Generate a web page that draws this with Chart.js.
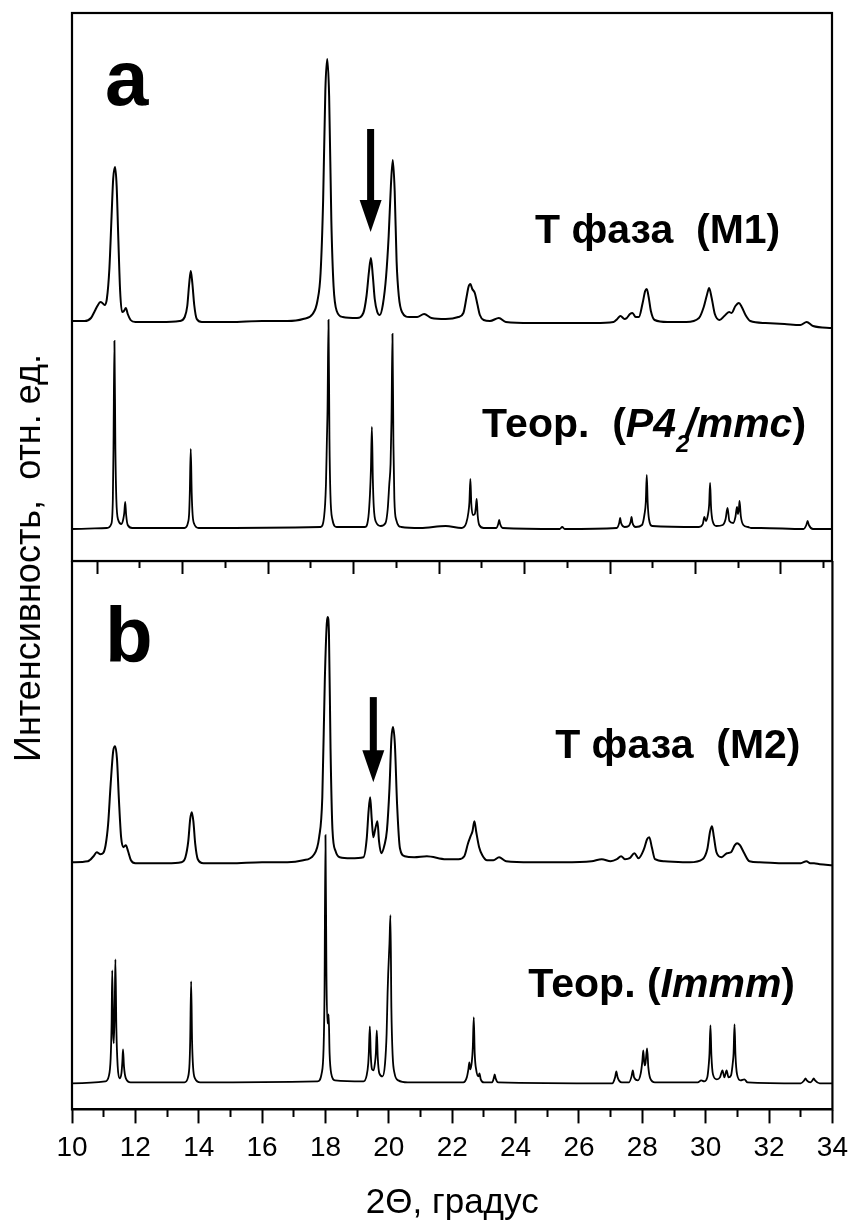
<!DOCTYPE html>
<html lang="ru">
<head>
<meta charset="UTF-8">
<title>XRD: T фаза M1 / M2</title>
<script src="https://cdn.jsdelivr.net/npm/chart.js"></script>
<style>
  body { margin: 0; background: #fff; width: 851px; height: 1224px; position: relative; overflow: hidden; }
  canvas { position: absolute; left: 0; }
  #chartA { top: 0; }
  #chartB { top: 561px; }
  #yTitle {
    position: absolute; left: 28px; top: 558px;
    transform: translate(-50%, -50%) rotate(-90deg);
    font: 36px "Liberation Sans", Arial, sans-serif; white-space: pre; color: #000;
  }
</style>
</head>
<body>
<canvas id="chartA" width="851" height="574"></canvas>
<!-- a few px wider than the page so the "34" label overhang does not squeeze the plot -->
<canvas id="chartB" width="856" height="663"></canvas>
<div id="yTitle">Интенсивность,  отн. ед.</div>

<script>
// 2theta range of the shared bottom axis
const thetaMin = 10
const thetaMax = 34

// panel a, experimental pattern, T phase (M1): [2theta, intensity a.u.]
const expM1 = [
  [10.00,10],[10.40,10],[10.60,13],[10.72,20],[10.80,25],[10.90,29],[10.96,28],[11.03,26],[11.10,32],
  [11.18,62],[11.25,115],[11.30,152],[11.36,164],[11.41,145],[11.46,95],[11.52,40],[11.58,19],[11.64,20],
  [11.70,23],[11.76,17],[11.85,11],[12.00,9],[12.80,9],[13.40,10],[13.56,14],[13.64,25],[13.70,47],
  [13.75,60],[13.80,48],[13.86,26],[13.94,12],[14.10,9],[15.00,9],[16.00,10],[16.80,10],[17.30,12],
  [17.60,17],[17.75,30],[17.85,58],[17.93,130],[18.00,240],[18.06,272],[18.12,235],[18.19,110],[18.26,45],
  [18.36,20],[18.55,14],[19.00,13],[19.20,18],[19.30,35],[19.38,60],[19.44,73],[19.50,55],[19.56,32],
  [19.64,19],[19.72,16],[19.82,27],[19.92,55],[20.00,95],[20.07,145],[20.13,171],[20.19,140],[20.25,70],
  [20.32,35],[20.42,19],[20.65,14],[20.90,14],[21.12,17],[21.35,13],[21.80,12],[22.20,14],[22.36,18],
  [22.46,34],[22.52,44],[22.58,47],[22.64,42],[22.72,38],[22.80,27],[22.88,16],[23.00,11],[23.20,10],
  [23.48,13],[23.70,9],[24.50,8],[25.50,8],[26.50,8],[27.10,9],[27.22,12],[27.32,15],[27.45,12],
  [27.52,13],[27.62,17],[27.70,18],[27.80,14],[27.90,14],[28.02,28],[28.10,40],[28.15,42],[28.21,34],
  [28.28,20],[28.40,11],[28.80,9],[29.40,9],[29.80,13],[29.95,24],[30.05,36],[30.12,43],[30.20,33],
  [30.30,17],[30.45,11],[30.60,15],[30.75,19],[30.83,18],[30.95,25],[31.06,28],[31.15,24],[31.27,16],
  [31.42,10],[31.90,8],[32.50,7],[33.00,6],[33.20,9],[33.40,5],[34.00,3]
]

// panel a, calculated pattern P4_2/mmc
const theoP42 = [
  [10.00,0],[11.10,1],[11.24,5],[11.29,30],[11.31,80],[11.34,188],[11.37,80],[11.40,30],[11.46,9],
  [11.56,5],[11.62,10],[11.65,16],[11.68,27],[11.71,14],[11.76,4],[11.90,1],[13.55,1],[13.66,6],
  [13.70,16],[13.72,36],[13.75,80],[13.78,36],[13.81,14],[13.86,5],[14.00,1],[17.85,2],[17.96,12],
  [18.02,45],[18.05,90],[18.07,120],[18.10,209],[18.13,90],[18.16,35],[18.22,10],[18.36,2],[19.25,2],
  [19.36,12],[19.41,35],[19.44,60],[19.47,102],[19.50,50],[19.53,22],[19.60,7],[19.75,3],[19.90,6],
  [19.97,20],[20.02,45],[20.06,65],[20.09,110],[20.12,195],[20.15,85],[20.18,30],[20.24,9],[20.40,2],
  [21.00,1],[21.80,3],[22.30,1],[22.45,6],[22.52,17],[22.55,27],[22.58,50],[22.61,25],[22.66,14],
  [22.72,15],[22.75,21],[22.78,30],[22.81,14],[22.86,4],[23.00,1],[23.40,1],[23.46,5],[23.49,9],
  [23.52,5],[23.60,1],[25.40,0],[25.48,2],[25.56,0],[27.20,1],[27.28,6],[27.31,11],[27.34,6],[27.45,2],
  [27.58,3],[27.64,7],[27.67,12],[27.70,6],[27.80,2],[28.00,4],[28.08,15],[28.12,27],[28.15,54],
  [28.18,26],[28.22,10],[28.32,3],[29.80,2],[29.92,5],[29.97,12],[30.02,8],[30.08,14],[30.12,24],
  [30.15,46],[30.18,22],[30.23,8],[30.35,3],[30.55,4],[30.64,10],[30.70,21],[30.76,8],[30.88,6],
  [30.95,12],[31.00,22],[31.03,15],[31.06,20],[31.08,28],[31.12,13],[31.20,4],[31.35,2],[31.45,1],
  [31.75,1],[33.10,0],[33.19,4],[33.23,8],[33.27,4],[33.40,0],[34.00,0]
]

// panel b, experimental pattern, T phase (M2)
const expM2 = [
  [10.00,7],[10.50,8],[10.68,13],[10.78,17],[10.90,15],[10.98,16],[11.06,24],[11.14,45],[11.22,85],
  [11.30,118],[11.36,123],[11.42,110],[11.48,70],[11.55,32],[11.62,22],[11.70,24],[11.77,18],[11.86,9],
  [12.00,6],[13.00,6],[13.45,7],[13.58,12],[13.67,28],[13.73,50],[13.78,57],[13.83,48],[13.89,25],
  [13.97,10],[14.15,6],[15.00,6],[16.00,7],[16.80,7],[17.30,9],[17.62,14],[17.80,32],[17.90,72],
  [17.98,190],[18.04,245],[18.07,252],[18.11,235],[18.16,120],[18.22,40],[18.32,18],[18.45,12],[18.80,11],
  [19.20,12],[19.30,30],[19.36,58],[19.41,72],[19.46,50],[19.51,32],[19.57,40],[19.64,48],[19.69,28],
  [19.76,16],[19.86,24],[19.94,39],[20.02,81],[20.08,130],[20.13,142],[20.19,125],[20.26,65],[20.35,21],
  [20.50,13],[20.80,12],[21.20,13],[21.80,10],[22.20,10],[22.38,13],[22.50,26],[22.58,33],[22.64,38],
  [22.70,48],[22.76,37],[22.85,22],[22.95,14],[23.10,9],[23.30,9],[23.48,12],[23.70,8],[24.50,7],
  [25.50,7],[26.40,8],[26.72,10],[27.00,8],[27.20,10],[27.33,13],[27.45,10],[27.60,11],[27.75,16],
  [27.88,11],[28.05,20],[28.15,30],[28.22,32],[28.30,22],[28.40,10],[28.70,8],[29.50,7],[29.90,10],
  [30.05,20],[30.14,38],[30.20,43],[30.26,32],[30.34,17],[30.50,12],[30.67,16],[30.80,17],[30.92,24],
  [30.99,26],[31.08,24],[31.20,17],[31.38,8],[31.70,7],[32.50,6],[33.00,6],[33.18,8],[33.30,6],
  [33.42,6],[33.60,5],[34.00,4]
]

// panel b, calculated pattern Immm
const theoImmm = [
  [10.00,0],[11.05,2],[11.16,7],[11.22,25],[11.25,60],[11.27,113],[11.30,50],[11.32,40],[11.35,80],
  [11.37,124],[11.40,55],[11.44,18],[11.50,5],[11.56,10],[11.59,22],[11.61,34],[11.64,17],[11.70,5],
  [11.85,1],[13.55,1],[13.66,6],[13.71,20],[13.73,42],[13.76,102],[13.79,42],[13.82,17],[13.88,5],
  [14.05,1],[17.75,2],[17.88,10],[17.94,35],[17.97,90],[18.00,248],[18.03,110],[18.06,60],[18.08,62],
  [18.10,69],[18.13,30],[18.18,10],[18.30,3],[19.20,2],[19.30,8],[19.35,20],[19.37,32],[19.40,57],
  [19.43,28],[19.47,14],[19.52,13],[19.56,20],[19.59,30],[19.62,53],[19.65,26],[19.70,10],[19.80,7],
  [19.88,20],[19.93,50],[19.96,90],[19.98,110],[20.02,140],[20.05,168],[20.08,75],[20.12,28],[20.18,10],
  [20.30,3],[20.60,1],[22.35,1],[22.46,6],[22.51,14],[22.54,21],[22.57,14],[22.62,22],[22.65,36],
  [22.68,66],[22.71,30],[22.76,13],[22.83,7],[22.86,10],[22.90,4],[23.00,1],[23.26,1],[23.31,5],
  [23.34,9],[23.37,5],[23.45,1],[27.05,0],[27.14,6],[27.18,12],[27.22,6],[27.35,1],[27.58,1],[27.66,7],
  [27.70,13],[27.74,6],[27.86,3],[27.95,10],[28.00,22],[28.03,33],[28.07,18],[28.10,20],[28.15,35],
  [28.19,16],[28.25,5],[28.40,1],[29.75,1],[29.86,3],[29.95,2],[30.05,6],[30.10,20],[30.12,30],
  [30.15,58],[30.18,28],[30.23,9],[30.35,4],[30.45,6],[30.53,13],[30.59,6],[30.66,13],[30.72,6],
  [30.80,8],[30.86,22],[30.88,30],[30.91,59],[30.94,28],[30.99,9],[31.10,3],[31.22,4],[31.32,1],
  [33.00,0],[33.11,3],[33.15,5],[33.19,3],[33.30,1],[33.37,3],[33.41,5],[33.45,3],[33.60,0],[34.00,0]
]

// vertical stacking of the curves inside each panel
const offsetM1 = 230, offsetP42 = 32
const offsetM2 = 240, offsetImmm = 26
const panelTop = 548

const FONT = '"Liberation Sans", Arial, sans-serif'

function toPoints(pairs, offset) {
  return pairs.map(p => ({ x: p[0], y: p[1] + offset }))
}

function trace(pairs, offset, width) {
  return {
    data: toPoints(pairs, offset),
    borderColor: '#000',
    borderWidth: width,
    pointRadius: 0,
    fill: false,
    cubicInterpolationMode: 'monotone'
  }
}

// labels, panel letters and arrows, drawn through the chart scales
const decor = {
  id: 'decor',
  afterDatasetsDraw(chart, args, opts) {
    const ctx = chart.ctx
    const xs = chart.scales.x, ys = chart.scales.y
    const area = chart.chartArea
    ctx.save()
    ctx.fillStyle = '#000'
    ctx.textBaseline = 'alphabetic'
    ctx.textAlign = 'left'
    for (const lab of opts.labels) {
      let px = xs.getPixelForValue(lab.x)
      const py = ys.getPixelForValue(lab.y)
      for (const seg of lab.parts) {
        const size = seg.sub ? lab.subSize : lab.size
        ctx.font = (seg.it ? 'italic ' : '') + 'bold ' + size + 'px ' + FONT
        ctx.fillText(seg.t, px, py + (seg.sub ? lab.subDrop : 0))
        px += ctx.measureText(seg.t).width - (seg.sub ? 4 : 0)
      }
    }
    for (const ar of opts.arrows) {
      const cx = xs.getPixelForValue(ar.x)
      const top = ys.getPixelForValue(ar.top)
      const base = ys.getPixelForValue(ar.base)
      const tip = ys.getPixelForValue(ar.tip)
      ctx.fillRect(cx - 3.5, top, 7, base - top + 1)
      ctx.beginPath()
      ctx.moveTo(cx - 11, base)
      ctx.lineTo(cx + 11, base)
      ctx.lineTo(cx, tip)
      ctx.closePath()
      ctx.fill()
    }
    // panel frame
    ctx.strokeStyle = '#000'
    ctx.lineWidth = 2.2
    ctx.strokeRect(area.left, area.top, area.right - area.left, area.bottom - area.top)
    ctx.restore()
  }
}

const hiddenY = { type: 'linear', display: false, min: 0, max: panelTop }
const hiddenX = { type: 'linear', display: false, min: thetaMin, max: thetaMax }

// panel a
new Chart(document.getElementById('chartA'), {
  type: 'line',
  data: { datasets: [trace(expM1, offsetM1, 2), trace(theoP42, offsetP42, 1.8)] },
  options: {
    responsive: false,
    animation: false,
    layout: { padding: { left: 72, right: 19, top: 13, bottom: 0 } },
    plugins: {
      legend: { display: false },
      tooltip: { enabled: false },
      decor: {
        labels: [
          { x: 11.04, y: 456, size: 78, parts: [{ t: 'a' }] },
          { x: 24.62, y: 318, size: 41, parts: [{ t: 'T фаза  (M1)' }] },
          { x: 22.95, y: 124, size: 41, subSize: 24, subDrop: 15,
            parts: [{ t: 'Теор.  (' }, { t: 'P4', it: true }, { t: '2', it: true, sub: true },
                    { t: '/mmc', it: true }, { t: ')' }] }
        ],
        arrows: [{ x: 19.43, top: 432, base: 361, tip: 329 }]
      }
    },
    scales: {
      x: hiddenX,
      y: hiddenY,
      // separate tick set along the lower edge of panel a
      xt: {
        type: 'linear', position: 'bottom', min: -0.585, max: 17.193,
        border: { display: true, color: '#000', width: 2 },
        grid: {
          display: true, drawOnChartArea: false, drawTicks: true, tickLength: 13,
          tickWidth: 2, tickColor: '#000',
          tickBorderDash: c => (c.tick && c.tick.value % 2 !== 0) ? [6, 100] : []
        },
        ticks: { display: false, stepSize: 1, includeBounds: false, autoSkip: false }
      }
    }
  },
  plugins: [decor]
})

// panel b, with the shared 2theta axis
new Chart(document.getElementById('chartB'), {
  type: 'line',
  data: { datasets: [trace(expM2, offsetM2, 2), trace(theoImmm, offsetImmm, 1.8)] },
  options: {
    responsive: false,
    animation: false,
    layout: { padding: { left: 72, right: 0, top: 0, bottom: 0 } },
    plugins: {
      legend: { display: false },
      tooltip: { enabled: false },
      decor: {
        labels: [
          { x: 11.04, y: 447, size: 78, parts: [{ t: 'b' }] },
          { x: 25.25, y: 351, size: 41, parts: [{ t: 'T фаза  (M2)' }] },
          { x: 24.40, y: 112, size: 41,
            parts: [{ t: 'Теор. (' }, { t: 'Immm', it: true }, { t: ')' }] }
        ],
        arrows: [{ x: 19.51, top: 412, base: 359, tip: 327 }]
      }
    },
    scales: {
      x: {
        type: 'linear', position: 'bottom', min: thetaMin, max: thetaMax,
        border: { display: true, color: '#000', width: 2 },
        grid: {
          display: true, drawOnChartArea: false, drawTicks: true, tickLength: 14,
          tickWidth: 2, tickColor: '#000',
          tickBorderDash: c => (c.tick && c.tick.value % 2 !== 0) ? [7, 100] : []
        },
        ticks: {
          stepSize: 1, autoSkip: false, maxRotation: 0, padding: 8, color: '#000',
          font: { family: FONT, size: 28 },
          callback: v => (v % 2 === 0 ? String(v) : '')
        },
        title: {
          display: true, text: '2Θ, градус', color: '#000',
          font: { family: FONT, size: 35 }, padding: { top: 9, bottom: 0 }
        }
      },
      y: hiddenY
    }
  },
  plugins: [decor]
})
</script>
</body>
</html>
